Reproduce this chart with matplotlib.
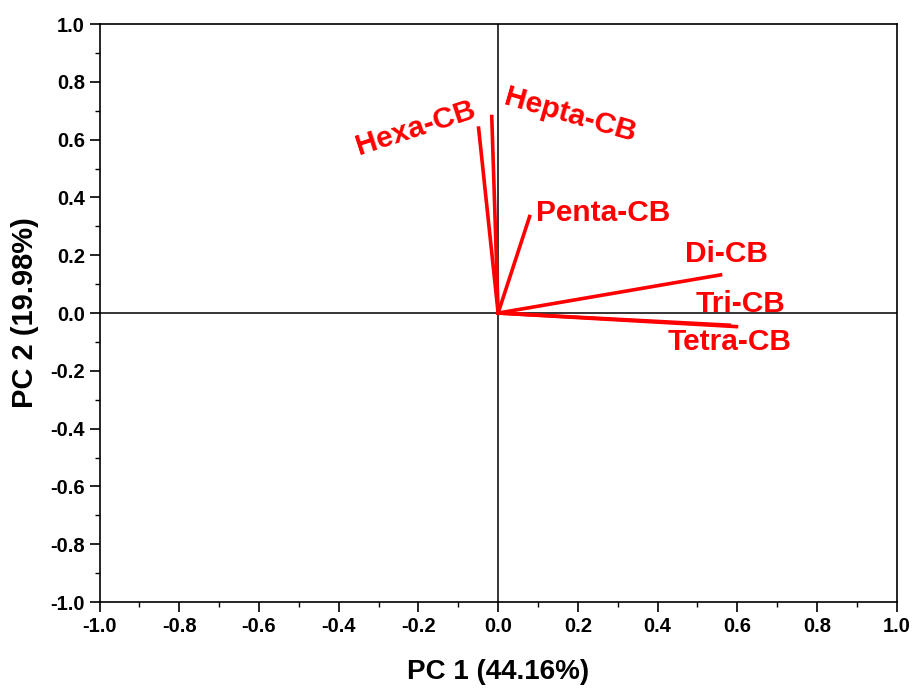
import numpy as np
import matplotlib.pyplot as plt
from matplotlib.ticker import MultipleLocator

plt.rcParams['font.family'] = ['Liberation Sans', 'DejaVu Sans']
plt.rcParams['font.weight'] = 'bold'

# loadings
names = ['Hexa-CB', 'Hepta-CB', 'Penta-CB', 'Di-CB', 'Tri-CB', 'Tetra-CB']
pc1 = [-0.049, -0.016, 0.079, 0.558, 0.58, 0.598]
pc2 = [0.640, 0.680, 0.334, 0.132, -0.042, -0.047]

# label placement (data coords) and rotation
label_x = [-0.206, 0.18, 0.263, 0.572, 0.607, 0.582]
label_y = [0.638, 0.685, 0.345, 0.203, 0.031, -0.10]
label_rot = [18, -16, 0, 0, 0, 0]

fig = plt.figure(figsize=(9.14, 6.88), dpi=100)
ax = fig.add_axes([0.109, 0.125, 0.872, 0.840])

ax.axhline(0, color='black', lw=1.1, zorder=1)
ax.axvline(0, color='black', lw=1.1, zorder=1)

for i in range(len(names)):
    ax.plot([0, pc1[i]], [0, pc2[i]], color='red', lw=2.6, zorder=2)
    ax.text(label_x[i], label_y[i], names[i], color='red', fontsize=21.5,
            fontweight='bold', ha='center', va='center', rotation=label_rot[i])

ax.set_xlim(-1, 1)
ax.set_ylim(-1, 1)
ax.xaxis.set_major_locator(MultipleLocator(0.2))
ax.yaxis.set_major_locator(MultipleLocator(0.2))
ax.xaxis.set_minor_locator(MultipleLocator(0.1))
ax.yaxis.set_minor_locator(MultipleLocator(0.1))
ax.tick_params(which='major', direction='out', length=7, width=1.2, labelsize=14.5)
ax.tick_params(which='minor', direction='out', length=3.6, width=1.0)
ax.xaxis.set_major_formatter(plt.FuncFormatter(lambda v, p: '%.1f' % v))
ax.yaxis.set_major_formatter(plt.FuncFormatter(lambda v, p: '%.1f' % v))
for lab in ax.get_xticklabels() + ax.get_yticklabels():
    lab.set_fontweight('bold')
for s in ax.spines.values():
    s.set_linewidth(1.2)

ax.set_xlabel('PC 1 (44.16%)', fontsize=20, fontweight='bold', labelpad=17)
ax.set_ylabel('PC 2 (19.98%)', fontsize=21, fontweight='bold', labelpad=8)

fig.savefig('out.png', dpi=100)
